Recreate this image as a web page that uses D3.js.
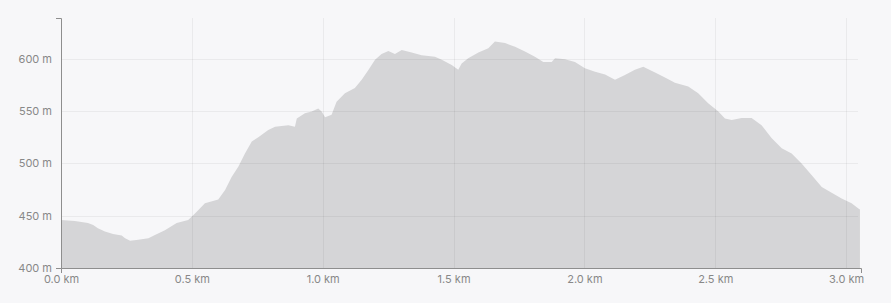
<!DOCTYPE html>
<html>
<head>
<meta charset="utf-8">
<script src="https://cdn.jsdelivr.net/npm/d3@7"></script>
<style>
  html, body { margin: 0; padding: 0; background: #f7f7f9; }
  #chart { width: 891px; height: 303px; }
  .axis text { font-family: Inter, "Noto Sans", sans-serif; font-size: 11px; fill: #888888; }
  .axis path { stroke: #8e8e8e; }
</style>
</head>
<body>
<div id="chart"></div>
<script>
// distance along the route (km) and elevation (m)
const distKm = [0.0, 0.053, 0.103, 0.123, 0.141, 0.168, 0.199, 0.232, 0.245, 0.264,
  0.295, 0.334, 0.359, 0.397, 0.442, 0.486, 0.512, 0.550, 0.601, 0.627,
  0.652, 0.678, 0.703, 0.729, 0.754, 0.792, 0.818, 0.869, 0.894, 0.901,
  0.932, 0.958, 0.983, 0.996, 1.009, 1.034, 1.053, 1.085, 1.123, 1.149,
  1.174, 1.200, 1.225, 1.251, 1.276, 1.302, 1.340, 1.378, 1.429, 1.455,
  1.493, 1.518, 1.531, 1.556, 1.595, 1.633, 1.658, 1.697, 1.735, 1.773,
  1.811, 1.843, 1.875, 1.888, 1.926, 1.964, 2.002, 2.041, 2.079, 2.117,
  2.155, 2.193, 2.225, 2.270, 2.308, 2.346, 2.397, 2.435, 2.473, 2.512,
  2.537, 2.563, 2.601, 2.639, 2.677, 2.716, 2.754, 2.792, 2.830, 2.868,
  2.907, 2.945, 2.983, 3.021, 3.047, 3.053];
const elevM = [446, 445, 443, 441, 438, 435, 432.5, 431, 428.5, 426,
  427, 428.5, 431.5, 436, 443, 446, 452, 462, 465.5, 474.5,
  487, 497, 509.5, 521, 525, 532, 535, 536.5, 535, 543,
  548, 549.5, 552.5, 549.5, 544, 546.5, 559, 567, 572, 580,
  589, 599, 604.5, 607.5, 604.5, 608.5, 606, 603.5, 602, 599,
  594, 589.5, 595.5, 600.5, 606, 610, 616.5, 615, 611.5, 607,
  602, 597, 597, 600.5, 599.5, 597, 591, 587.5, 585, 580,
  584.5, 589.5, 592.5, 587, 582, 577, 573.5, 567, 557.5, 549.5,
  543, 541.5, 543.5, 543.5, 536.5, 524, 514.5, 509.5, 500, 489,
  477.5, 472, 466.5, 462, 457, 456];

const xTicks = [0, 0.5, 1, 1.5, 2, 2.5, 3];
const yTicks = [400, 450, 500, 550, 600];

const width = 891, height = 303;
const margin = { top: 18, right: 30, bottom: 35, left: 61 };

const svg = d3.select("#chart")
  .append("svg")
  .attr("width", width)
  .attr("height", height);

const x = d3.scaleLinear()
  .domain([0, 3.057])
  .range([margin.left, width - margin.right]);

const y = d3.scaleLinear()
  .domain([400, 639])
  .range([height - margin.bottom, margin.top]);

const points = distKm.map((d, i) => ({ d: d, e: elevM[i] }));

// area
const area = d3.area()
  .x(p => x(p.d))
  .y0(y(400))
  .y1(p => y(p.e));

svg.append("path")
  .datum(points)
  .attr("d", area)
  .attr("fill", "#d5d5d7");

// gridlines, drawn over the area so they show through faintly
svg.append("g")
  .selectAll("line")
  .data(yTicks.slice(1))
  .enter()
  .append("line")
  .attr("x1", x(0))
  .attr("x2", 858)
  .attr("y1", d => Math.round(y(d)) + 0.5)
  .attr("y2", d => Math.round(y(d)) + 0.5)
  .attr("stroke", "rgba(0,0,0,0.05)");

svg.append("g")
  .selectAll("line")
  .data(xTicks.slice(1))
  .enter()
  .append("line")
  .attr("x1", d => Math.round(x(d)) + 0.5)
  .attr("x2", d => Math.round(x(d)) + 0.5)
  .attr("y1", margin.top)
  .attr("y2", y(400))
  .attr("stroke", "rgba(0,0,0,0.05)");

// axes
svg.append("g")
  .attr("class", "axis")
  .attr("transform", "translate(0," + y(400) + ")")
  .call(d3.axisBottom(x)
    .tickValues(xTicks)
    .tickSize(0)
    .tickSizeOuter(5)
    .tickPadding(7)
    .tickFormat(d => d3.format(".1f")(d) + " km"));

svg.append("g")
  .attr("class", "axis")
  .attr("transform", "translate(" + x(0) + ",0)")
  .call(d3.axisLeft(y)
    .tickValues(yTicks)
    .tickSize(0)
    .tickSizeOuter(5)
    .tickPadding(9)
    .tickFormat(d => d + " m"));
</script>
</body>
</html>
